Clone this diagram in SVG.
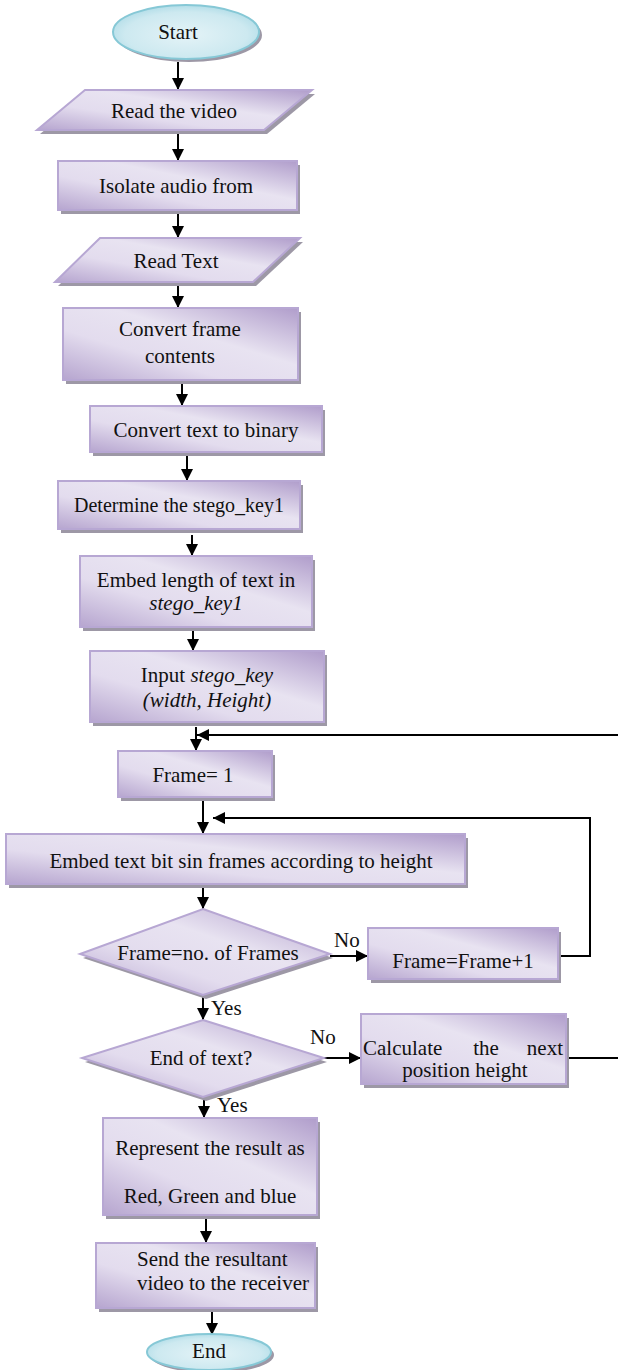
<svg xmlns="http://www.w3.org/2000/svg" width="618" height="1370" viewBox="0 0 618 1370">
<defs>
<linearGradient id="pg" x1="0" y1="1" x2="1" y2="0">
<stop offset="0" stop-color="#b6a5cf"/>
<stop offset="0.35" stop-color="#e3dcee"/>
<stop offset="0.6" stop-color="#e8e3f1"/>
<stop offset="1" stop-color="#b09dcb"/>
</linearGradient>
<radialGradient id="cg" cx="0.5" cy="0.55" r="0.6">
<stop offset="0" stop-color="#e4f3f7"/>
<stop offset="0.7" stop-color="#cde9f0"/>
<stop offset="1" stop-color="#a9d9e5"/>
</radialGradient>
<marker id="ah" viewBox="0 0 10 10" refX="10" refY="5" markerWidth="12" markerHeight="12" markerUnits="userSpaceOnUse" orient="auto">
<path d="M0,0 L10,5 L0,10 z" fill="#000"/>
</marker>
</defs>
<style>
.box{fill:url(#pg);stroke:#b7a7d3;stroke-width:2}
.sh{fill:#9d98a6}
.term{fill:url(#cg);stroke:#86c8d6;stroke-width:2}
.t{font-family:"Liberation Serif","Times New Roman",serif;font-size:21px;fill:#111;text-anchor:middle}
.ts{font-family:"Liberation Serif","Times New Roman",serif;font-size:21px;fill:#111}
.i{font-style:italic}
.c{stroke:#000;stroke-width:2;fill:none}
.a{stroke:#000;stroke-width:2;fill:none;marker-end:url(#ah)}
</style>

<g id="connectors">
<line class="a" x1="178" y1="62" x2="178" y2="90"/>
<line class="a" x1="178" y1="134" x2="178" y2="161"/>
<line class="a" x1="178" y1="213" x2="178" y2="238"/>
<line class="a" x1="178" y1="286" x2="178" y2="308"/>
<line class="a" x1="182" y1="383" x2="182" y2="406"/>
<line class="a" x1="187" y1="455" x2="187" y2="481"/>
<line class="a" x1="192" y1="535" x2="192" y2="556"/>
<line class="a" x1="193" y1="631" x2="193" y2="651"/>
<line class="a" x1="196" y1="727" x2="196" y2="751"/>
<line class="a" x1="618" y1="735" x2="197" y2="735"/>
<line class="a" x1="203" y1="800" x2="203" y2="834"/>
<polyline class="a" points="561,956 590,956 590,818 213,818"/>
<line class="a" x1="203" y1="887" x2="203" y2="909"/>
<line class="a" x1="330" y1="956" x2="368" y2="956"/>
<line class="a" x1="203" y1="995" x2="203" y2="1020"/>
<line class="a" x1="324" y1="1058" x2="361" y2="1058"/>
<line class="c" x1="566" y1="1058" x2="618" y2="1058"/>
<line class="a" x1="204" y1="1097" x2="204" y2="1118"/>
<line class="a" x1="206" y1="1219" x2="206" y2="1243"/>
<line class="a" x1="212" y1="1311" x2="212" y2="1335"/>
<text class="ts" x="334" y="947">No</text>
<text class="ts" x="211" y="1015">Yes</text>
<text class="ts" x="310" y="1044">No</text>
<text class="ts" x="217" y="1112">Yes</text>
</g>

<g id="start">
<ellipse class="sh" cx="189" cy="35" rx="73" ry="27"/>
<ellipse class="term" cx="186" cy="32" rx="73" ry="27"/>
<text class="t" x="178" y="39">Start</text>
</g>

<g id="read-video">
<polygon class="sh" points="88,94 315,94 267,134 40,134"/>
<polygon class="box" points="85,90 312,90 264,130 37,130"/>
<text class="t" x="174" y="118">Read the video</text>
</g>

<g id="isolate-audio">
<rect class="sh" x="61" y="165" width="239" height="49"/>
<rect class="box" x="58" y="161" width="239" height="49"/>
<text class="t" x="176" y="193">Isolate audio from</text>
</g>

<g id="read-text">
<polygon class="sh" points="103,242 303,242 256,286 58,286"/>
<polygon class="box" points="100,238 300,238 253,282 55,282"/>
<text class="t" x="176" y="268">Read Text</text>
</g>

<g id="convert-frame">
<rect class="sh" x="66" y="312" width="235" height="72"/>
<rect class="box" x="63" y="308" width="235" height="72"/>
<text class="t" x="180" y="336">Convert frame</text>
<text class="t" x="180" y="363">contents</text>
</g>

<g id="convert-text">
<rect class="sh" x="93" y="410" width="232" height="46"/>
<rect class="box" x="90" y="406" width="232" height="46"/>
<text class="t" x="206" y="437">Convert text to binary</text>
</g>

<g id="determine-key">
<rect class="sh" x="61" y="485" width="242" height="48"/>
<rect class="box" x="58" y="481" width="242" height="48"/>
<text class="t" x="179" y="512" style="font-size:20px">Determine the stego_key1</text>
</g>

<g id="embed-length">
<rect class="sh" x="83" y="560" width="232" height="71"/>
<rect class="box" x="80" y="556" width="232" height="71"/>
<text class="t" x="196" y="587">Embed length of text in</text>
<text class="t i" x="196" y="610">stego_key1</text>
</g>

<g id="input-key">
<rect class="sh" x="93" y="655" width="234" height="71"/>
<rect class="box" x="90" y="651" width="234" height="71"/>
<text class="t" x="207" y="682">Input  <tspan class="i">stego_key</tspan></text>
<text class="t i" x="207" y="707">(width, Height)</text>
</g>

<g id="frame-init">
<rect class="sh" x="121" y="755" width="154" height="46"/>
<rect class="box" x="118" y="751" width="154" height="46"/>
<text class="t" x="193" y="782">Frame= 1</text>
</g>

<g id="embed-bits">
<rect class="sh" x="9" y="838" width="459" height="50"/>
<rect class="box" x="6" y="834" width="459" height="50"/>
<text class="t" x="241" y="868">Embed text bit sin frames according to height</text>
</g>

<g id="decision-frames">
<polygon class="sh" points="206,913 333,958 206,999 83,958"/>
<polygon class="box" points="203,909 330,954 203,995 80,954"/>
<text class="t" x="208" y="960">Frame=no. of Frames</text>
</g>

<g id="frame-increment">
<rect class="sh" x="371" y="932" width="190" height="51"/>
<rect class="box" x="368" y="928" width="190" height="51"/>
<text class="t" x="463" y="968">Frame=Frame+1</text>
</g>

<g id="decision-end">
<polygon class="sh" points="206,1024 327,1062 206,1101 85,1062"/>
<polygon class="box" points="203,1020 324,1058 203,1097 82,1058"/>
<text class="t" x="201" y="1065">End of text?</text>
</g>

<g id="calc-next">
<rect class="sh" x="364" y="1018" width="205" height="70"/>
<rect class="box" x="361" y="1014" width="205" height="70"/>
<text class="ts" x="363" y="1055">Calculate</text>
<text class="t" x="486" y="1055">the</text>
<text class="ts" x="563" y="1055" style="text-anchor:end">next</text>
<text class="t" x="465" y="1077">position height</text>
</g>

<g id="represent">
<rect class="sh" x="106" y="1122" width="214" height="97"/>
<rect class="box" x="103" y="1118" width="214" height="97"/>
<text class="t" x="210" y="1155">Represent the result as</text>
<text class="t" x="210" y="1203">Red, Green and blue</text>
</g>

<g id="send">
<rect class="sh" x="99" y="1247" width="219" height="65"/>
<rect class="box" x="96" y="1243" width="219" height="65"/>
<text class="ts" x="137" y="1266">Send the resultant</text>
<text class="ts" x="137" y="1290">video to the receiver</text>
</g>

<g id="end">
<ellipse class="sh" cx="212" cy="1355" rx="62" ry="18"/>
<ellipse class="term" cx="209" cy="1352" rx="62" ry="18"/>
<text class="t" x="209" y="1358">End</text>
</g>
</svg>
